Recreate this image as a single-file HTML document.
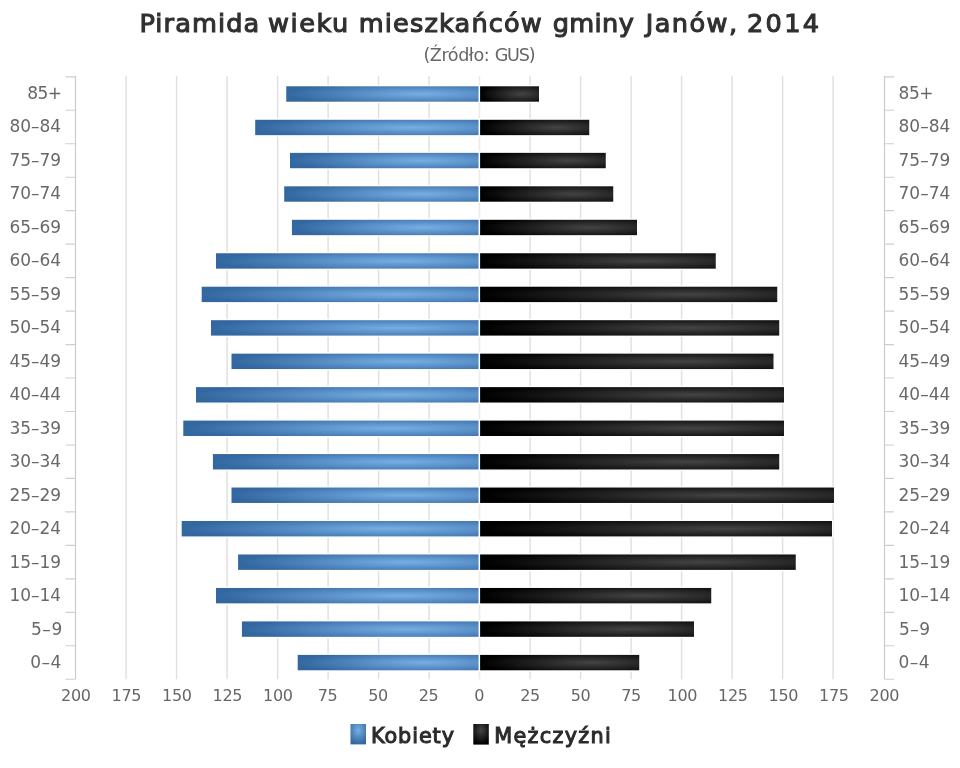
<!DOCTYPE html>
<html lang="pl"><head><meta charset="utf-8"><title>Piramida wieku mieszkańców gminy Janów, 2014</title>
<style>html,body{margin:0;padding:0;background:#fff}body{width:960px;height:768px;overflow:hidden}svg{display:block}text{font-family:"DejaVu Sans", "Liberation Sans", sans-serif;white-space:pre}</style></head><body>
<svg width="960" height="768" viewBox="0 0 960 768">
<defs>
<radialGradient id="gb" cx="0.7" cy="0.5" r="0.7"><stop offset="0" stop-color="#77afe5"/><stop offset="1" stop-color="#32679f"/></radialGradient>
<radialGradient id="gk" cx="0.7" cy="0.5" r="0.7"><stop offset="0" stop-color="#444446"/><stop offset="1" stop-color="#000"/></radialGradient>
<radialGradient id="lb" cx="0.5" cy="0.3" r="0.7"><stop offset="0" stop-color="#77afe5"/><stop offset="1" stop-color="#32679f"/></radialGradient>
<radialGradient id="lk" cx="0.5" cy="0.3" r="0.7"><stop offset="0" stop-color="#444446"/><stop offset="1" stop-color="#000"/></radialGradient>
</defs>
<rect width="960" height="768" fill="#fff"/>
<path d="M126.1 76.0V679.2M176.6 76.0V679.2M227.1 76.0V679.2M277.6 76.0V679.2M328.1 76.0V679.2M378.6 76.0V679.2M429.1 76.0V679.2M530.1 76.0V679.2M580.6 76.0V679.2M631.1 76.0V679.2M681.6 76.0V679.2M732.1 76.0V679.2M782.6 76.0V679.2M833.1 76.0V679.2" stroke="#e0e0e0" stroke-width="1.45" fill="none"/>
<path d="M479.5 76.0V679.2" stroke="#ebebeb" stroke-width="1.5" fill="none"/>
<g stroke="#fff" stroke-width="1.4">
<rect x="285.55" y="85.60" width="193.95" height="16.80" fill="url(#gb)"/>
<rect x="479.40" y="85.60" width="60.30" height="16.80" fill="url(#gk)"/>
<rect x="254.50" y="119.07" width="225.00" height="16.80" fill="url(#gb)"/>
<rect x="479.40" y="119.07" width="110.55" height="16.80" fill="url(#gk)"/>
<rect x="289.30" y="152.14" width="190.20" height="16.80" fill="url(#gb)"/>
<rect x="479.40" y="152.14" width="127.05" height="16.80" fill="url(#gk)"/>
<rect x="283.50" y="185.61" width="196.00" height="16.80" fill="url(#gb)"/>
<rect x="479.40" y="185.61" width="134.55" height="16.80" fill="url(#gk)"/>
<rect x="291.20" y="219.08" width="188.30" height="16.80" fill="url(#gb)"/>
<rect x="479.40" y="219.08" width="158.30" height="16.80" fill="url(#gk)"/>
<rect x="215.30" y="252.55" width="264.20" height="16.80" fill="url(#gb)"/>
<rect x="479.40" y="252.55" width="237.05" height="16.80" fill="url(#gk)"/>
<rect x="201.00" y="286.02" width="278.50" height="16.80" fill="url(#gb)"/>
<rect x="479.40" y="286.02" width="298.55" height="16.80" fill="url(#gk)"/>
<rect x="210.30" y="319.49" width="269.20" height="16.80" fill="url(#gb)"/>
<rect x="479.40" y="319.49" width="300.55" height="16.80" fill="url(#gk)"/>
<rect x="230.80" y="352.96" width="248.70" height="16.80" fill="url(#gb)"/>
<rect x="479.40" y="352.96" width="294.80" height="16.80" fill="url(#gk)"/>
<rect x="195.30" y="386.43" width="284.20" height="16.80" fill="url(#gb)"/>
<rect x="479.40" y="386.43" width="305.30" height="16.80" fill="url(#gk)"/>
<rect x="182.60" y="419.90" width="296.90" height="16.80" fill="url(#gb)"/>
<rect x="479.40" y="419.90" width="305.30" height="16.80" fill="url(#gk)"/>
<rect x="212.20" y="453.37" width="267.30" height="16.80" fill="url(#gb)"/>
<rect x="479.40" y="453.37" width="300.55" height="16.80" fill="url(#gk)"/>
<rect x="230.80" y="486.84" width="248.70" height="16.80" fill="url(#gb)"/>
<rect x="479.40" y="486.84" width="355.30" height="16.80" fill="url(#gk)"/>
<rect x="181.00" y="520.31" width="298.50" height="16.80" fill="url(#gb)"/>
<rect x="479.40" y="520.31" width="353.30" height="16.80" fill="url(#gk)"/>
<rect x="237.40" y="553.78" width="242.10" height="16.80" fill="url(#gb)"/>
<rect x="479.40" y="553.78" width="317.05" height="16.80" fill="url(#gk)"/>
<rect x="215.30" y="587.25" width="264.20" height="16.80" fill="url(#gb)"/>
<rect x="479.40" y="587.25" width="232.55" height="16.80" fill="url(#gk)"/>
<rect x="241.20" y="620.72" width="238.30" height="16.80" fill="url(#gb)"/>
<rect x="479.40" y="620.72" width="215.30" height="16.80" fill="url(#gk)"/>
<rect x="297.00" y="654.19" width="182.50" height="16.80" fill="url(#gb)"/>
<rect x="479.40" y="654.19" width="160.55" height="16.80" fill="url(#gk)"/>
</g>
<path d="M75.5 76.0V679.2M884.5 76.0V679.2" stroke="#c6cbd1" stroke-width="1.15" fill="none"/>
<path d="M65.5 76.80H75.0M885.0 76.80H894.0M65.5 110.27H75.0M885.0 110.27H894.0M65.5 143.74H75.0M885.0 143.74H894.0M65.5 177.21H75.0M885.0 177.21H894.0M65.5 210.68H75.0M885.0 210.68H894.0M65.5 244.15H75.0M885.0 244.15H894.0M65.5 277.62H75.0M885.0 277.62H894.0M65.5 311.09H75.0M885.0 311.09H894.0M65.5 344.56H75.0M885.0 344.56H894.0M65.5 378.03H75.0M885.0 378.03H894.0M65.5 411.50H75.0M885.0 411.50H894.0M65.5 444.97H75.0M885.0 444.97H894.0M65.5 478.44H75.0M885.0 478.44H894.0M65.5 511.91H75.0M885.0 511.91H894.0M65.5 545.38H75.0M885.0 545.38H894.0M65.5 578.85H75.0M885.0 578.85H894.0M65.5 612.32H75.0M885.0 612.32H894.0M65.5 645.79H75.0M885.0 645.79H894.0M65.5 679.26H75.0M885.0 679.26H894.0" stroke="#cbcfd4" stroke-width="1.15" fill="none"/>
<g font-size="17" fill="#686868">
<text x="27.21" y="98.95" textLength="34.75" lengthAdjust="spacing">85+</text>
<text x="898.57" y="98.95" textLength="34.91" lengthAdjust="spacing">85+</text>
<text x="9.38" y="132.45" textLength="51.74" lengthAdjust="spacing">80–84</text>
<text x="898.57" y="132.45" textLength="51.70" lengthAdjust="spacing">80–84</text>
<text x="9.38" y="165.95" textLength="51.74" lengthAdjust="spacing">75–79</text>
<text x="898.57" y="165.95" textLength="51.70" lengthAdjust="spacing">75–79</text>
<text x="9.38" y="199.45" textLength="51.74" lengthAdjust="spacing">70–74</text>
<text x="898.57" y="199.45" textLength="51.70" lengthAdjust="spacing">70–74</text>
<text x="9.38" y="232.95" textLength="51.74" lengthAdjust="spacing">65–69</text>
<text x="898.57" y="232.95" textLength="51.70" lengthAdjust="spacing">65–69</text>
<text x="9.38" y="266.45" textLength="51.74" lengthAdjust="spacing">60–64</text>
<text x="898.57" y="266.45" textLength="51.70" lengthAdjust="spacing">60–64</text>
<text x="9.38" y="299.95" textLength="51.74" lengthAdjust="spacing">55–59</text>
<text x="898.57" y="299.95" textLength="51.70" lengthAdjust="spacing">55–59</text>
<text x="9.38" y="333.45" textLength="51.74" lengthAdjust="spacing">50–54</text>
<text x="898.57" y="333.45" textLength="51.70" lengthAdjust="spacing">50–54</text>
<text x="9.38" y="366.95" textLength="51.74" lengthAdjust="spacing">45–49</text>
<text x="898.57" y="366.95" textLength="51.70" lengthAdjust="spacing">45–49</text>
<text x="9.38" y="400.45" textLength="51.74" lengthAdjust="spacing">40–44</text>
<text x="898.57" y="400.45" textLength="51.70" lengthAdjust="spacing">40–44</text>
<text x="9.38" y="433.95" textLength="51.74" lengthAdjust="spacing">35–39</text>
<text x="898.57" y="433.95" textLength="51.70" lengthAdjust="spacing">35–39</text>
<text x="9.38" y="467.45" textLength="51.74" lengthAdjust="spacing">30–34</text>
<text x="898.57" y="467.45" textLength="51.70" lengthAdjust="spacing">30–34</text>
<text x="9.38" y="500.95" textLength="51.74" lengthAdjust="spacing">25–29</text>
<text x="898.57" y="500.95" textLength="51.70" lengthAdjust="spacing">25–29</text>
<text x="9.38" y="534.45" textLength="51.74" lengthAdjust="spacing">20–24</text>
<text x="898.57" y="534.45" textLength="51.70" lengthAdjust="spacing">20–24</text>
<text x="9.38" y="567.95" textLength="51.74" lengthAdjust="spacing">15–19</text>
<text x="898.57" y="567.95" textLength="51.70" lengthAdjust="spacing">15–19</text>
<text x="9.38" y="601.45" textLength="51.74" lengthAdjust="spacing">10–14</text>
<text x="898.57" y="601.45" textLength="51.70" lengthAdjust="spacing">10–14</text>
<text x="30.92" y="634.95" textLength="31.32" lengthAdjust="spacing">5–9</text>
<text x="898.89" y="634.95" textLength="31.28" lengthAdjust="spacing">5–9</text>
<text x="30.13" y="668.45" textLength="31.26" lengthAdjust="spacing">0–4</text>
<text x="898.44" y="668.45" textLength="31.12" lengthAdjust="spacing">0–4</text>
</g>
<g font-size="16" fill="#666">
<text x="61.10" y="700.60" textLength="29.76" lengthAdjust="spacing">200</text>
<text x="111.60" y="700.60" textLength="29.76" lengthAdjust="spacing">175</text>
<text x="162.10" y="700.60" textLength="29.76" lengthAdjust="spacing">150</text>
<text x="212.60" y="700.60" textLength="29.76" lengthAdjust="spacing">125</text>
<text x="263.10" y="700.60" textLength="29.76" lengthAdjust="spacing">100</text>
<text x="317.68" y="700.60" textLength="20.02" lengthAdjust="spacing">75</text>
<text x="368.18" y="700.60" textLength="20.02" lengthAdjust="spacing">50</text>
<text x="418.68" y="700.60" textLength="20.02" lengthAdjust="spacing">25</text>
<text x="474.35" y="700.60" textLength="14.21" lengthAdjust="spacing">0</text>
<text x="520.18" y="700.60" textLength="20.02" lengthAdjust="spacing">25</text>
<text x="570.68" y="700.60" textLength="20.02" lengthAdjust="spacing">50</text>
<text x="621.18" y="700.60" textLength="20.02" lengthAdjust="spacing">75</text>
<text x="667.60" y="700.60" textLength="29.76" lengthAdjust="spacing">100</text>
<text x="718.10" y="700.60" textLength="29.76" lengthAdjust="spacing">125</text>
<text x="768.60" y="700.60" textLength="29.76" lengthAdjust="spacing">150</text>
<text x="819.10" y="700.60" textLength="29.76" lengthAdjust="spacing">175</text>
<text x="869.60" y="700.60" textLength="29.76" lengthAdjust="spacing">200</text>
</g>
<text y="32" font-size="25.6" fill="#303030" stroke="#303030" stroke-width="1.1"><tspan x="139.38" textLength="119.82" lengthAdjust="spacing">Piramida</tspan> <tspan x="268.09" textLength="80.06" lengthAdjust="spacing">wieku</tspan> <tspan x="358.73" textLength="183.03" lengthAdjust="spacing">mieszkańców</tspan> <tspan x="552.69" textLength="81.18" lengthAdjust="spacing">gminy</tspan> <tspan x="645.68" textLength="91.43" lengthAdjust="spacing">Janów,</tspan> <tspan x="747.08" textLength="71.88" lengthAdjust="spacing">2014</tspan></text>
<text y="60.8" font-size="17.6" fill="#666"><tspan x="423.42" textLength="66.23" lengthAdjust="spacing">(Źródło:</tspan> <tspan x="494.69" textLength="40.95" lengthAdjust="spacing">GUS)</tspan></text>
<rect x="350.5" y="724" width="15.5" height="20.4" fill="url(#lb)"/>
<rect x="473.3" y="724" width="15.5" height="20.6" fill="url(#lk)"/>
<g font-size="20.8" fill="#2b2b2b" stroke="#2b2b2b" stroke-width="1.05">
<text x="370.96" y="743.40" textLength="83.02" lengthAdjust="spacing">Kobiety</text>
<text x="494.22" y="743.40" textLength="116.49" lengthAdjust="spacing">Mężczyźni</text>
</g>
</svg></body></html>
